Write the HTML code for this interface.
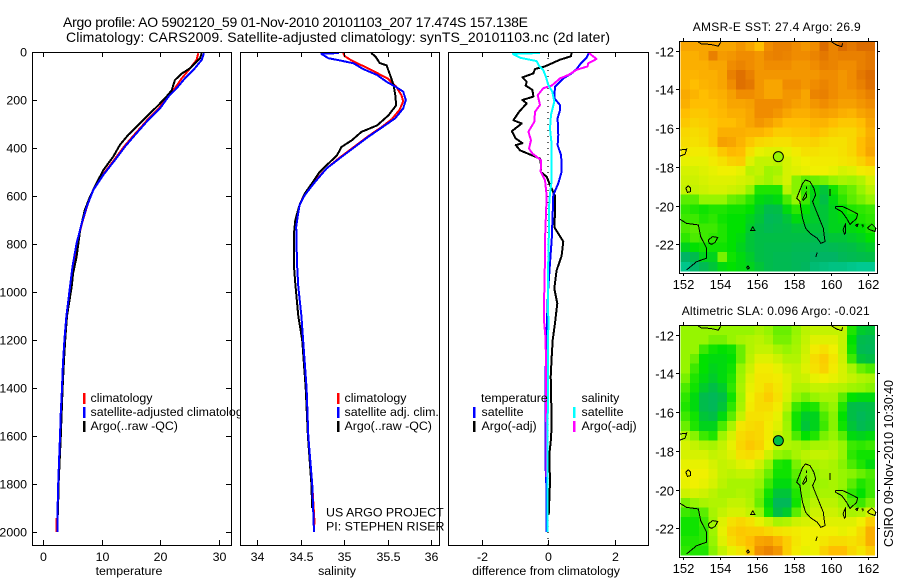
<!DOCTYPE html>
<html>
<head>
<meta charset="utf-8">
<title>Argo profile 5902120_59</title>
<style>
html,body{margin:0;padding:0;background:#fff;}
svg{display:block;font-family:"Liberation Sans",sans-serif;font-size:12.4px;fill:#000;}
text{fill:#000;}
</style>
</head>
<body>
<svg id="chart" xmlns="http://www.w3.org/2000/svg" width="900" height="580" viewBox="0 0 900 580"></svg>
<script>
// ---- depth axis ----
const depthTicks = [0,200,400,600,800,1000,1200,1400,1600,1800,2000];

// ---- temperature panel ----
const tempTicks = [0,10,20,30];
const tempClimDepth = [5,33,68,110,151,186,235,283,346,394,450,512,575,645,715,797,894,978,1100,1200,1300,1400,1500,1600,1700,1800,1900,1945,1945,2000];
const tempClimValue = [26.5,26.2,25.1,23.65,22.5,21.2,19.75,17.8,15.5,13.8,12.1,10.15,8.5,7.45,6.6,5.8,5.1,4.6,3.95,3.6,3.35,3.2,3.0,2.85,2.72,2.55,2.45,2.45,2.25,2.25];
const tempSatDepth = [5,33,68,110,151,186,235,283,346,394,450,512,575,645,715,797,894,978,1100,1200,1300,1400,1500,1600,1700,1800,1900,2000];
const tempSatValue = [27.47,27.07,25.9,24.2,22.8,21.4,19.95,17.95,15.68,13.97,12.26,10.26,8.55,7.42,6.56,5.7,5.0,4.56,3.95,3.6,3.35,3.2,3.0,2.85,2.7,2.55,2.45,2.4];
const tempArgoDepth = [5,25,68,90,117,160,193,228,262,290,346,387,436,492,547,602,658,741,853,922,978,1100,1200,1300,1400,1500,1600,1700,1800,1930];
const tempArgoValue = [27.07,26.8,25.07,23.66,22.5,21.95,20.8,19.4,17.95,16.8,14.5,13.1,11.97,10.26,9.1,8.0,7.1,6.3,5.7,5.1,4.85,4.05,3.75,3.5,3.3,3.15,3.0,2.8,2.62,2.5];

// ---- salinity panel ----
const salTicks = [34,34.5,35,35.5,36];
const salTickLabels = ['34','34.5','35','35.5','36'];
const salClimDepth = [4,18,36,55,80,110,144,180,205,240,280,311,353,394,443,485,540,596,637,679,728,880,978,1100,1200,1400,1600,1800,1950,2000];
const salClimValue = [34.99,35.01,35.09,35.2,35.34,35.5,35.6,35.66,35.68,35.64,35.55,35.44,35.27,35.12,34.94,34.8,34.66,34.54,34.49,34.47,34.45,34.46,34.475,34.51,34.53,34.57,34.59,34.635,34.66,34.655];
const salSatDepth = [4,8,26,35,47,71,96,124,144,165,200,235,276,311,353,394,443,485,540,596,637,679,728,880,978,1100,1200,1400,1600,1800,2000];
const salSatValue = [34.94,34.74,34.82,34.95,35.11,35.22,35.38,35.49,35.59,35.68,35.71,35.68,35.59,35.45,35.28,35.13,34.95,34.8,34.67,34.55,34.49,34.47,34.45,34.46,34.475,34.51,34.53,34.57,34.59,34.635,34.655];
const salArgoDepth = [4,18,46,56,96,138,180,222,264,306,333,368,396,431,465,500,548,590,637,700,755,894,965,1100,1200,1400,1600,1800,1900];
const salArgoValue = [35.31,35.36,35.41,35.49,35.53,35.57,35.59,35.6,35.51,35.38,35.2,35.09,34.97,34.92,34.82,34.72,34.63,34.55,34.49,34.44,34.425,34.425,34.44,34.475,34.52,34.56,34.585,34.625,34.635];

// ---- difference panel ----
const diffTicks = [-2,0,2];
const diffTempSatDepth = [4,24,47,71,89,110,144,193,221,242,276,346,388,429,464,499,547,596,671,783,838,1000,1200,1400,1700,1800,2000];
const diffTempSatValue = [1.23,1.16,0.99,0.86,0.71,0.46,0.21,0.19,0.36,0.36,0.29,0.31,0.29,0.39,0.41,0.41,0.31,0.16,0.14,0.11,0.08,0.0,-0.05,-0.08,-0.08,-0.05,-0.04];
const diffTempArgoDepth = [4,18,32,60,71,89,106,124,140,158,186,200,214,249,284,298,330,360,380,388,410,444,472,499,520,547,600,670,730,790,850,910,986,1047,1130,1200,1270,1353,1547,1610,1680,1790,1930];
const diffTempArgoValue = [0.71,0.69,0.36,-0.09,-0.39,-0.44,-0.77,-0.64,-0.67,-0.47,-0.44,-0.77,-0.64,-0.87,-1.04,-0.79,-1.09,-0.97,-0.77,-0.97,-0.84,-0.24,-0.21,-0.22,-0.04,0.04,0.21,0.21,0.19,0.46,0.41,0.26,0.19,0.28,0.21,0.14,0.11,0.08,0.11,0.09,0.04,0.06,0.02];
const diffSalSatDepth = [4,8,24,38,58,76,104,138,165,207,262,318,388,450,534,617,728,922,1130,1547,2000];
const diffSalSatValue = [-0.24,-1.06,-0.84,-0.34,-0.27,-0.14,-0.06,0.01,0.13,0.19,0.09,0.06,0.11,0.11,0.11,0.04,0.03,0,0.01,-0.01,-0.01];
const diffSalArgoDepth = [4,29,47,60,74,96,110,140,151,180,221,249,290,304,332,368,402,423,451,499,534,600,670,783,860,983,1120,1200,1410,1770];
const diffSalArgoValue = [1.23,1.46,1.21,1.19,0.86,0.61,0.36,0.11,-0.14,-0.31,-0.24,-0.39,-0.41,-0.47,-0.59,-0.51,-0.57,-0.47,-0.21,-0.22,-0.09,-0.04,-0.06,-0.09,-0.09,-0.11,-0.12,-0.07,-0.06,-0.04];

// ---- maps ----
const mapLonTicks = [152,154,156,158,160,162];
const mapLatTicks = [12,14,16,18,20,22];
const argoLon = 157.138;
const argoLat = 17.474;
const argoSst = 3.0;
const argoSla = 1.5;

const sstRows = [
[5.5,5.5,5.5,5.5,5.5,5.5,5.8,5.5,5,6,6.3,6.3,6,5.8,6,6.8,6.2,6.8,6.5,6.8,6.8],
[5.3,5.3,5.5,6.3,5.7,5.8,6,6,5.8,6.2,6.3,6.2,6,6,6.2,6.5,6.2,6.3,6.3,6.3,6.5],
[5.3,5.3,5.3,5.5,5.5,6,6.2,6,5.8,6,6,6,5.8,5.8,6,6.3,6.2,6,6,6.3,6.5],
[5.2,5.2,5.3,5.3,5.5,6.3,6.7,6.3,5.8,5.8,5.8,5.8,5.8,5.8,5.8,6,6,5.8,6,6.5,6.8],
[5.2,5,5.2,5.3,5.5,6,6.7,6.5,5.8,5.5,5.5,6,6,5.8,6,6.2,6,5.8,6,6.3,6.7],
[5.4,5.2,5,5.2,5.3,5.6,6,6,5.8,5.5,5.5,5.8,5.8,5.5,6.2,6.3,6,5.8,5.8,6,6.3],
[5.3,5,5,5,5.2,5.5,5.5,5.6,6,6,6,5.8,5.6,5.5,5.8,6,5.8,5.6,5.6,5.8,6],
[5,4.8,4.8,5,5.1,5.3,5.3,5.5,6,6,5.8,5.5,5.3,5.3,5.5,5.6,5.5,5.3,5.2,5.5,5.7],
[4.8,4.6,4.7,4.8,5,5,5.2,5.5,5.8,5.6,5.3,5,5,5,5.2,5.2,5,4.8,4.8,5,5.5],
[4.5,4.4,4.5,4.8,5.3,5.3,5.3,5.2,5.2,5,4.7,4.7,4.8,4.8,5,4.8,4.6,4.5,4.5,4.8,5.3],
[4.4,4.3,4.4,4.8,5.6,5.5,5.2,4.8,4.5,4.4,4.3,4.3,4.5,4.5,4.6,4.4,4.3,4.3,4.5,5,5.4],
[4.2,4.1,4.1,4.3,4.8,5.1,5,4.3,3.9,3.8,3.8,3.9,4.1,4.3,4.3,4.2,4.2,4.3,4.5,5,5.5],
[3.9,3.9,3.9,4.1,4.3,4.6,4.7,3.8,3.5,3.5,3.4,3.7,3.9,4,4.1,4.1,4.1,4.2,4.3,4.6,5],
[3.7,3.7,3.8,3.9,4,4,3.9,3.4,3.5,3.1,3.2,3.7,3.8,3.9,4,4,3.9,3.7,3.8,4.1,4.2],
[3.6,3.6,3.7,3.8,3.8,3.8,3.7,3.6,3.3,3.1,3.4,3.7,2.9,2.6,2.7,2.8,3,3.2,3.1,3.3,3.7],
[3.5,3.5,3.6,3.7,3.7,3.6,3.5,3,2.2,2.2,2.2,3.4,2.9,2.3,1.9,1.6,2.1,2.5,2.7,3,3.4],
[2.6,2.6,3,3,3,2.7,2.6,2.3,1.9,1.8,1.9,2.5,3,2.4,1.8,1.5,1.9,2.3,2.6,2.8,3],
[2.3,2.2,2.1,2.2,2.2,2.1,2.1,2,1.7,1.4,1.5,1.9,2.3,2,1.7,1.6,1.8,2,2.2,2.3,2.4],
[2.4,2.4,2.2,2.3,2.1,2,2,1.8,1.6,1.2,1.3,1.6,1.9,1.8,1.7,1.6,1.8,1.9,2,2.2,2.3],
[2.5,2.6,2.4,2.4,2.2,2,2,1.7,1.5,1.3,1.4,1.5,1.6,1.6,1.6,1.6,1.8,1.8,1.9,2,2.2],
[2.3,2.5,2.4,2.3,2.2,2,1.9,1.6,1.5,1.5,1.5,1.5,1.5,1.5,1.4,1.5,1.6,1.6,1.7,1.8,2],
[1.8,2,2.1,2.1,2.1,2,1.8,1.6,1.5,1.4,1.4,1.4,1.3,1.3,1.2,1.2,1.3,1.4,1.5,1.6,1.7],
[1,1.4,1.8,1.8,2.8,2.1,1.9,1.7,1.5,1.4,1.3,1.3,1.2,1.2,1,1,1,1.2,1.3,1.4,1.5],
[0.5,0.9,1.3,1.6,1.9,2,1.9,1.8,1.6,1.4,1.3,1.3,1.2,1.1,0.8,0.7,0.6,0.6,0.5,0.4,0.4]
];

const slaRows = [
[3,3,3,3,3,3,3,3,3.2,3,2.7,2.7,3,3.4,3.5,3.5,3.5,3.5,2.2,1.7,1.6],
[3,3,3,2.8,2.8,3,3.2,3.3,3.4,3.2,2.8,2.8,3.1,3.5,3.8,3.8,3.8,3.5,2,1.4,1.3],
[3,3,2.4,2.1,2,2.1,2.7,3.3,3.5,3.5,3.2,3,3.2,3.6,4.1,4.3,4,3.5,2.1,1.3,1.2],
[3,2.7,2,1.9,1.9,2,2.7,3.4,3.8,3.8,3.6,3.3,3.3,3.7,4.4,4.7,4.2,3.6,2.4,1.6,1.5],
[3,2.4,2,1.8,1.9,2.1,3,3.6,4.1,4.1,3.9,3.6,3.5,3.8,4.3,4.6,4.1,3.7,3.2,2.7,2.5],
[2.8,2.2,1.9,1.7,1.9,2.2,3.1,3.8,4.2,4.2,4.1,3.8,3.5,3.6,3.9,4,3.9,3.7,3.5,3.3,3.2],
[2.5,2.1,1.7,1.5,1.7,2.3,3.2,3.9,4.2,4.5,4.2,3.8,3.3,3.3,3.5,3.5,3.4,3.3,3.1,3,2.9],
[2.3,1.9,1.4,1.2,1.5,2.1,3.1,4,4.4,4.7,4.3,3.7,3,2.8,3,3.2,3.2,2.6,2,1.9,1.9],
[2.2,1.9,1.4,1.2,1.6,2.3,3.2,4.1,4.4,4.4,4.1,3.4,2.4,2.1,2.2,2.8,3,2.2,1.5,1.4,1.5],
[2.4,2.1,1.6,1.5,1.9,2.6,3.5,4.3,4.3,4.2,3.9,3,2.1,1.7,1.8,2.5,2.9,2,1.5,1.2,1.4],
[2.7,2.2,1.8,1.8,2.5,3.2,4.2,4.4,4.5,4.1,3.8,3.1,2.1,1.6,1.8,2.4,2.9,2.1,1.6,1.3,1.5],
[3.3,2.9,2.4,2.2,3.1,3.7,4.4,4.6,4.5,4.1,3.6,3.2,2.5,2,2.2,2.8,3,2.6,1.9,1.8,1.9],
[3.7,3.5,3.3,3.2,3.5,3.9,4.5,4.8,4.6,4,3.5,3.3,3.2,3,3.2,3.2,3.3,3,2.4,2.3,2.4],
[3.7,3.7,3.7,3.5,3.6,3.8,4.3,4.4,4.2,3.6,3,2.9,3.2,3.4,3.5,3.5,3.4,3,2.3,2.1,2.1],
[3.9,3.9,3.9,3.7,3.5,3.6,3.8,3.9,3.6,3,2.2,2.1,2.8,3.2,3.2,3.3,3.2,2.9,2.5,2.2,1.9],
[4,4,4,3.8,3.5,3.4,3.5,3.5,3.2,2.7,2.1,2.1,2.6,2.9,3,3.2,3.2,3,2.9,2.7,2.5],
[3.9,4,3.9,3.7,3.4,3.2,3.2,3.2,3,2.4,1.9,1.9,2.4,2.9,3,3.1,3.2,3,2.6,2.2,2.4],
[3.6,3.7,3.6,3.4,3.2,3.2,3.3,3.2,2.8,2.1,1.6,1.6,2.2,2.9,3.1,3.2,3.2,2.9,2.3,2,2.4],
[2.8,3,3.2,3.3,3.3,3.5,3.5,3.3,2.7,1.9,1.2,1.2,2.1,3,3.4,3.4,3.4,3.1,2.6,2.4,2.8],
[2.4,2.3,2.6,3.2,3.5,3.7,3.7,3.5,3,2.1,1.5,1.7,2.6,3.2,3.6,3.6,3.6,3.4,3.2,3.3,3.7],
[2.1,2.1,2.4,3.1,3.8,4.3,4.5,4.3,3.9,3.6,3.2,3.3,3.6,3.7,3.8,3.8,3.8,3.8,3.8,4,4.7],
[2.1,2.1,2.3,3.1,3.9,4.6,4.8,4.7,4.7,4.5,4.3,4.2,4.1,4,4,4,4,3.9,4,4.4,5.3],
[2.2,2.2,2.3,3,3.8,4.4,4.7,5,5.5,5.6,5.2,4.7,4.2,4,4,4.2,4.4,4.4,4.3,4.5,5.3],
[2.3,2.2,2.2,2.9,3.5,3.9,4.2,4.8,5.9,6.2,5.8,4.7,4.1,3.9,4,4.6,5,5,4.5,4.2,4.7]
];

const coastlines = [
[[158.61,18.68],[158.85,18.76],[159.06,19.11],[159.15,19.45],[158.99,19.8],[159.17,20.23],[159.35,20.66],[159.57,21.17],[159.66,21.86],[159.44,21.95],[159.24,21.69],[158.85,21.43],[158.61,21.17],[158.45,20.66],[158.34,20.05],[158.31,19.8],[158.13,19.62],[158.31,19.19],[158.45,18.85],[158.61,18.68]],
[[158.45,19.68],[158.63,19.33],[158.67,19.54],[158.49,19.72],[158.45,19.68]],
[[158.65,19.02],[158.65,19.15]],
[[159.93,19.15],[159.93,19.5]],
[[160.23,20.05],[160.61,20.05],[161.01,20.23],[161.42,20.43],[161.37,20.66],[161.01,20.97],[160.83,20.66],[160.56,20.31],[160.23,20.14],[160.23,20.05]],
[[160.63,21.25],[160.78,20.92],[160.78,21.4],[160.71,21.47],[160.63,21.25]],
[[161.3,21.0],[161.45,20.95],[161.4,21.08],[161.3,21.0]],
[[161.62,21.0],[161.72,21.0],[161.7,21.12]],
[[161.95,21.17],[162.19,20.95],[162.41,21.17],[162.36,21.34],[162.09,21.25],[161.95,21.17]],
[[151.82,20.71],[152.18,20.92],[152.81,21.0],[152.94,21.6],[153.26,22.2],[153.26,22.72],[152.72,22.9],[152.18,23.32]],
[[153.35,21.78],[153.59,21.6],[153.86,21.65],[153.71,21.91],[153.53,22.0],[153.39,21.95],[153.35,21.78]],
[[152.81,11.55],[152.99,11.66],[153.44,11.67],[153.89,11.76],[154.02,11.57]],
[[160.02,11.55],[160.29,11.71],[160.56,11.79],[160.61,11.62]],
[[151.82,17.13],[152.18,17.09],[152.09,17.35],[151.82,17.44]],
[[152.27,18.97],[152.4,19.11],[152.4,19.28],[152.22,19.32],[152.14,19.11],[152.27,18.97]],
[[155.75,21.09],[155.87,21.29],[155.64,21.29],[155.75,21.09]],
[[155.42,23.2],[155.5,23.12],[155.58,23.22],[155.48,23.28],[155.42,23.2]],
[[159.24,22.42],[159.16,22.66]]
];

// ---- helpers ----
const NS = 'http://www.w3.org/2000/svg';
const root = document.getElementById('chart');
function el(tag, attrs, parent) {
  const n = document.createElementNS(NS, tag);
  for (const k in attrs) n.setAttribute(k, attrs[k]);
  (parent || root).appendChild(n);
  return n;
}
function label(str, x, y, anchor, size, parent) {
  const t = el('text', {x: x, y: y, 'text-anchor': anchor || 'start', 'font-size': size || 12.4}, parent);
  t.textContent = str;
  return t;
}
const depthY = d => 52 + 0.24 * d;
const tempX = v => 43.3 + 5.85 * v;
const salX = v => 257 + 87 * (v - 34);
const diffX = v => 548 + 33.25 * v;

function curve(xFn, depths, values, color, name) {
  const pts = depths.map((d, i) => xFn(values[i]).toFixed(1) + ',' + depthY(d).toFixed(1)).join(' ');
  const p = el('polyline', {points: pts, fill: 'none', stroke: color, 'stroke-width': 2, 'stroke-linejoin': 'round', 'shape-rendering': 'crispEdges'});
  
  
}
function panelBox(x0, x1, y0, y1, name) {
  const r = el('rect', {x: x0, y: y0, width: x1 - x0, height: y1 - y0, fill: '#fff', stroke: 'none'});
  
  
}
function frame(x0, x1, y0, y1, name) {
  const r = el('rect', {x: x0 + 0.5, y: y0 + 0.5, width: x1 - x0, height: y1 - y0, fill: 'none', stroke: '#000', 'stroke-width': 1, 'shape-rendering': 'crispEdges'});
  
  
}
function tick(x1, y1, x2, y2, name) {
  const l = el('line', {x1: x1, y1: y1, x2: x2, y2: y2, stroke: '#000', 'stroke-width': 1, 'shape-rendering': 'crispEdges'});
  
  
}
function swatch(x, y, color, name) {
  const r = el('rect', {x: x, y: y, width: 2.5, height: 11, fill: color, 'shape-rendering': 'crispEdges'});
  
  
}
function named(t, name) {
  
  
  return t;
}
function xAxis(xFn, ticks, labels, x0, x1, title, titleX, name) {
  ticks.forEach((v, i) => {
    const x = Math.round(xFn(v)) + 0.5;
    tick(x, 52, x, 57, name + '-top-tick');
    tick(x, 545, x, 540, name + '-bottom-tick');
    named(label(labels[i], x, 561, 'middle'), name + '-tick-label');
  });
  named(label(title, titleX, 575, 'middle'), name + '-title');
}

// ---- title ----
const t1 = named(label('Argo profile: AO 5902120_59 01-Nov-2010 20101103_207 17.474S 157.138E', 63, 27, 'start', 14), 'title-line-1');
t1.setAttribute('textLength', '465');
const t2 = named(label('Climatology: CARS2009. Satellite-adjusted climatology: synTS_20101103.nc (2d later)', 66, 42, 'start', 14), 'title-line-2');
t2.setAttribute('textLength', '544');

// ---- panel 1: temperature ----
panelBox(32, 231, 52, 545, 'temperature-panel');
curve(tempX, tempClimDepth, tempClimValue, '#ff0000', 'temperature-climatology-line');
curve(tempX, tempArgoDepth, tempArgoValue, '#000000', 'temperature-argo-line');
curve(tempX, tempSatDepth, tempSatValue, '#0000ff', 'temperature-satellite-line');
depthTicks.forEach(d => {
  const y = Math.round(depthY(d)) + 0.5;
  tick(32, y, 37, y, 'depth-left-tick');
  tick(231, y, 226, y, 'depth-right-tick');
  named(label(String(d), 27, y + 4, 'end'), 'depth-tick-label');
});
swatch(83, 393, '#ff0000', 'legend-climatology-swatch');
swatch(83, 407, '#0000ff', 'legend-satellite-swatch');
swatch(83, 421, '#000000', 'legend-argo-swatch');
named(label('climatology', 90.5, 402), 'legend-climatology-label');
named(label('satellite-adjusted climatology', 90.5, 416), 'legend-satellite-label');
named(label('Argo(..raw -QC)', 90.5, 430), 'legend-argo-label');
frame(32, 231, 52, 545, 'temperature-panel');
xAxis(tempX, tempTicks, tempTicks.map(String), 32, 231, 'temperature', 129, 'temperature-axis');

// ---- panel 2: salinity ----
panelBox(240, 439, 52, 545, 'salinity-panel');
curve(salX, salClimDepth, salClimValue, '#ff0000', 'salinity-climatology-line');
curve(salX, salArgoDepth, salArgoValue, '#000000', 'salinity-argo-line');
curve(salX, salSatDepth, salSatValue, '#0000ff', 'salinity-satellite-line');
swatch(337, 393, '#ff0000', 'salinity-legend-climatology-swatch');
swatch(337, 407, '#0000ff', 'salinity-legend-satellite-swatch');
swatch(337, 421, '#000000', 'salinity-legend-argo-swatch');
named(label('climatology', 344.5, 402), 'salinity-legend-climatology-label');
named(label('satellite adj. clim.', 344.5, 416), 'salinity-legend-satellite-label');
named(label('Argo(..raw -QC)', 344.5, 430), 'salinity-legend-argo-label');
named(label('US ARGO PROJECT', 326, 516.5), 'project-label');
named(label('PI: STEPHEN RISER', 326, 530.5), 'pi-label');
frame(240, 439, 52, 545, 'salinity-panel');
xAxis(salX, salTicks, salTickLabels, 240, 439, 'salinity', 337, 'salinity-axis');

// ---- panel 3: difference ----
panelBox(448, 648, 52, 545, 'difference-panel');
const zero = el('line', {x1: diffX(0), y1: depthY(0), x2: diffX(0), y2: 545, stroke: '#000', 'stroke-width': 1.2, 'stroke-dasharray': '1 5'});


curve(diffX, diffTempArgoDepth, diffTempArgoValue, '#000000', 'difference-temperature-argo-line');
curve(diffX, diffTempSatDepth, diffTempSatValue, '#0000ff', 'difference-temperature-satellite-line');
curve(diffX, diffSalArgoDepth, diffSalArgoValue, '#ff00ff', 'difference-salinity-argo-line');
curve(diffX, diffSalSatDepth, diffSalSatValue, '#00ffff', 'difference-salinity-satellite-line');
named(label('temperature', 481, 402), 'legend-temperature-heading');
swatch(473, 407, '#0000ff', 'legend-temperature-satellite-swatch');
swatch(473, 421, '#000000', 'legend-temperature-argo-swatch');
named(label('satellite', 481.5, 416), 'legend-temperature-satellite-label');
named(label('Argo(-adj)', 481.5, 430), 'legend-temperature-argo-label');
named(label('salinity', 581.5, 402), 'legend-salinity-heading');
swatch(573, 407, '#00ffff', 'legend-salinity-satellite-swatch');
swatch(573, 421, '#ff00ff', 'legend-salinity-argo-swatch');
named(label('satellite', 581.5, 416), 'legend-salinity-satellite-label');
named(label('Argo(-adj)', 581.5, 430), 'legend-salinity-argo-label');
frame(448, 648, 52, 545, 'difference-panel');
xAxis(diffX, diffTicks, diffTicks.map(String), 448, 648, 'difference from climatology', 546, 'difference-axis');

// ---- maps ----
const stops = [[0,0,215,175],[1,0,180,100],[1.5,0,190,70],[2,0,225,0],[3,150,245,0],[4,240,240,0],[5,255,190,0],[6,240,140,0],[7,215,100,0],[8,230,50,0]];
function colorOf(v) {
  for (let i = 1; i < stops.length; i++) {
    if (v <= stops[i][0]) {
      const a = stops[i - 1], b = stops[i], f = Math.max(0, (v - a[0]) / (b[0] - a[0]));
      return 'rgb(' + [1, 2, 3].map(k => Math.round(a[k] + (b[k] - a[k]) * f)).join(',') + ')';
    }
  }
  return 'rgb(230,50,0)';
}
function drawMap(rows, top, y12, markerValue, title, titleX, titleLen, name) {
  const lonX = lon => 683.3 + 18.5 * (lon - 152);
  const latY = lat => y12 + 19.36 * (lat - 12);
  const lon0 = 151.85, lat0 = 11.52, dLon = 0.5, dLat = 0.495;
  const box = {x0: 679, x1: 877, y0: top, y1: top + 232};
  const bg = el('rect', {x: box.x0, y: box.y0, width: box.x1 - box.x0, height: box.y1 - box.y0, fill: '#fff'});
  
  
  rows.forEach((row, j) => {
    row.forEach((v, i) => {
      const x = lonX(lon0 + i * dLon), x2 = lonX(lon0 + (i + 1) * dLon);
      const y = latY(lat0 + j * dLat), y2 = latY(lat0 + (j + 1) * dLat);
      const c = el('rect', {x: x.toFixed(1), y: y.toFixed(1), width: (x2 - x + 0.3).toFixed(1), height: (y2 - y + 0.3).toFixed(1), fill: colorOf(v), 'shape-rendering': 'crispEdges'});
      
      
    });
  });
  coastlines.forEach(seg => {
    const p = el('polyline', {points: seg.map(q => lonX(q[0]).toFixed(1) + ',' + latY(q[1]).toFixed(1)).join(' '), fill: 'none', stroke: '#000', 'stroke-width': 1, 'shape-rendering': 'crispEdges'});
    
    
  });
  const m = el('circle', {cx: lonX(argoLon), cy: latY(argoLat), r: 5, fill: colorOf(markerValue), stroke: '#000', 'stroke-width': 1});
  
  
  frame(box.x0, box.x1, box.y0, box.y1, name);
  mapLonTicks.forEach(l => {
    const x = Math.round(lonX(l)) + 0.5;
    tick(x, box.y0, x, box.y0 - 3, name + '-top-tick');
    tick(x, box.y1, x, box.y1 + 3, name + '-bottom-tick');
    named(label(String(l), x, box.y1 + 16, 'middle', 13), name + '-lon-label');
  });
  mapLatTicks.forEach(l => {
    const y = Math.round(latY(l)) + 0.5;
    tick(box.x1, y, box.x1 + 3, y, name + '-right-tick');
    tick(box.x0, y, box.x0 - 3, y, name + '-left-tick');
    named(label('-' + l, 674, y + 5, 'end', 13), name + '-lat-label');
  });
  const tt = named(label(title, titleX, top - 10, 'start', 12), name + '-title');
  tt.setAttribute('textLength', titleLen);
}
drawMap(sstRows, 41, 50.7, argoSst, 'AMSR-E SST: 27.4 Argo: 26.9', 692.7, 168, 'sst-map');
drawMap(slaRows, 325, 334.7, argoSla, 'Altimetric SLA: 0.096 Argo: -0.021', 681.7, 188, 'sla-map');

const stamp = el('text', {x: 893, y: 547, 'font-size': 12.5, transform: 'rotate(-90 893 547)', textLength: 167});
stamp.textContent = 'CSIRO 09-Nov-2010 10:30:40';


</script>
</body>
</html>
